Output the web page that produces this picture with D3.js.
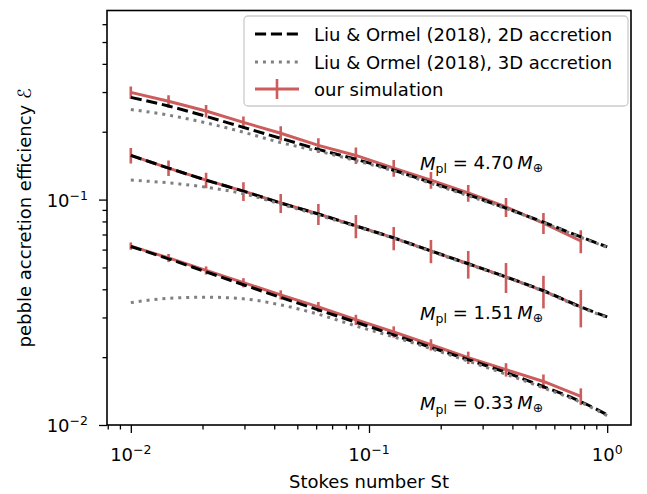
<!DOCTYPE html>
<html>
<head>
<meta charset="utf-8">
<script src="https://cdn.jsdelivr.net/npm/d3@7"></script>
<style>
  body { margin: 0; background: #fff; }
  text { font-family: "DejaVu Sans", sans-serif; fill: #000; }
</style>
</head>
<body>
<div id="wrapper"></div>
<script>
// Stokes numbers of the simulation runs
const stX = [0.01, 0.0144, 0.0207, 0.0297, 0.0426, 0.0613, 0.0881, 0.127, 0.182, 0.261, 0.376, 0.540, 0.775]
// Stokes numbers of the analytic curves
const thX = [0.01, 0.0144, 0.0207, 0.0297, 0.0426, 0.0613, 0.0881, 0.127, 0.182, 0.261, 0.376, 0.540, 0.775, 1.0]

// simulation, with error bars
const sim470 = [0.299, 0.273, 0.247, 0.220, 0.197, 0.174, 0.157, 0.138, 0.122, 0.107, 0.0927, 0.0787, 0.0655]
const err470 = [0.0188, 0.0172, 0.0156, 0.0139, 0.0146, 0.0129, 0.0133, 0.0117, 0.0104, 0.0091, 0.0089, 0.0084, 0.0077]
const sim151 = [0.157, 0.138, 0.122, 0.109, 0.0966, 0.0863, 0.0764, 0.0676, 0.0592, 0.0519, 0.0454, 0.0394, 0.0334]
const err151 = [0.0125, 0.0109, 0.0097, 0.0105, 0.0093, 0.0092, 0.0090, 0.0080, 0.0070, 0.0073, 0.0069, 0.0065, 0.0063]
const sim033 = [0.0622, 0.0551, 0.0485, 0.0428, 0.0378, 0.0334, 0.0293, 0.0259, 0.0227, 0.0199, 0.0176, 0.0156, 0.0134]
const err033 = [0.00226, 0.00229, 0.00202, 0.00201, 0.00177, 0.00175, 0.00153, 0.00149, 0.00131, 0.00125, 0.0012, 0.00115, 0.00114]

// Liu & Ormel (2018)
const lo2d470 = [0.284, 0.260, 0.234, 0.209, 0.187, 0.167, 0.151, 0.135, 0.119, 0.105, 0.0916, 0.0794, 0.0683, 0.0617]
const lo3d470 = [0.251, 0.237, 0.219, 0.199, 0.179, 0.164, 0.149, 0.134, 0.118, 0.104, 0.0912, 0.0790, 0.0680, 0.0614]
const lo2d151 = [0.157, 0.138, 0.122, 0.109, 0.0966, 0.0863, 0.0764, 0.0676, 0.0592, 0.0519, 0.0454, 0.0394, 0.0334, 0.0302]
const lo3d151 = [0.122, 0.1186, 0.1135, 0.1062, 0.0955, 0.0853, 0.0760, 0.0673, 0.0589, 0.0516, 0.0452, 0.0392, 0.0332, 0.0300]
const lo2d033 = [0.0619, 0.0546, 0.0478, 0.0419, 0.0368, 0.0324, 0.0286, 0.0251, 0.0221, 0.0195, 0.0171, 0.0148, 0.0127, 0.0111]
const lo3d033 = [0.0349, 0.0365, 0.0369, 0.0363, 0.0341, 0.0310, 0.0275, 0.0246, 0.0218, 0.0192, 0.0168, 0.0146, 0.0126, 0.0110]

const massLabels = ["4.70", "1.51", "0.33"]
const legendLabels = ["Liu & Ormel (2018), 2D accretion", "Liu & Ormel (2018), 3D accretion", "our simulation"]
const xMajor = [0.01, 0.1, 1]
const xMinor = [0.008, 0.009, 0.02, 0.03, 0.04, 0.05, 0.06, 0.07, 0.08, 0.09, 0.2, 0.3, 0.4, 0.5, 0.6, 0.7, 0.8, 0.9]
const yMajor = [0.01, 0.1]
const yMinor = [0.02, 0.03, 0.04, 0.05, 0.06, 0.07, 0.08, 0.09, 0.2, 0.3, 0.4, 0.5, 0.6]

// dimensions
let dim = {
  width: 647,
  height: 494,
  margin: { top: 10.5, right: 16, bottom: 69, left: 107 },
}
dim.bound_width = dim.width - dim.margin.left - dim.margin.right
dim.bound_height = dim.height - dim.margin.top - dim.margin.bottom

const red = "#cd5c5c"
const gray = "#808080"
const fs = "18px"
const fsSmall = "12.5px"

const svg = d3.select("#wrapper").append("svg")
  .attr("width", dim.width)
  .attr("height", dim.height)

const chart = svg.append("g")
  .attr("transform", `translate(${dim.margin.left},${dim.margin.top})`)

// scales
const x_scale = d3.scaleLog()
  .domain([Math.pow(10, -2.1), Math.pow(10, 0.1)])
  .range([0, dim.bound_width])
const y_scale = d3.scaleLog()
  .domain([0.01, 0.69])
  .range([dim.bound_height, 0])

chart.append("clipPath").attr("id", "clip")
  .append("rect").attr("width", dim.bound_width).attr("height", dim.bound_height)
const plot = chart.append("g").attr("clip-path", "url(#clip)")

const line = d3.line()
  .x(d => x_scale(d[0]))
  .y(d => y_scale(d[1]))
  .curve(d3.curveMonotoneX)

// simulation lines + error bars
const sims = [[sim470, err470], [sim151, err151], [sim033, err033]]
sims.forEach(([vals, errs]) => {
  const pts = stX.map((s, i) => [s, vals[i]])
  plot.append("path")
    .attr("d", d3.line().x(d => x_scale(d[0])).y(d => y_scale(d[1]))(pts))
    .attr("fill", "none")
    .attr("stroke", red)
    .attr("stroke-width", 3)
  plot.selectAll(null).data(stX).join("line")
    .attr("x1", d => x_scale(d))
    .attr("x2", d => x_scale(d))
    .attr("y1", (d, i) => y_scale(vals[i] - errs[i]))
    .attr("y2", (d, i) => y_scale(vals[i] + errs[i]))
    .attr("stroke", red)
    .attr("stroke-width", 2.6)
})

// 2D curves
;[lo2d470, lo2d151, lo2d033].forEach(vals => {
  plot.append("path")
    .attr("d", line(thX.map((s, i) => [s, vals[i]])))
    .attr("fill", "none")
    .attr("stroke", "#000")
    .attr("stroke-width", 3)
    .attr("stroke-dasharray", "11.1,4.8")
})
// 3D curves
;[lo3d470, lo3d151, lo3d033].forEach(vals => {
  plot.append("path")
    .attr("d", line(thX.map((s, i) => [s, vals[i]])))
    .attr("fill", "none")
    .attr("stroke", gray)
    .attr("stroke-width", 3)
    .attr("stroke-dasharray", "3,4.95")
})

// axes
const xAxis = chart.append("g").attr("transform", `translate(0,${dim.bound_height})`)
xAxis.call(d3.axisBottom(x_scale).tickValues(xMajor).tickSize(8).tickFormat(""))
const xAxisMinor = chart.append("g").attr("transform", `translate(0,${dim.bound_height})`)
xAxisMinor.call(d3.axisBottom(x_scale).tickValues(xMinor).tickSize(4.5).tickFormat(""))
const yAxis = chart.append("g")
yAxis.call(d3.axisLeft(y_scale).tickValues(yMajor).tickSize(8).tickFormat(""))
const yAxisMinor = chart.append("g")
yAxisMinor.call(d3.axisLeft(y_scale).tickValues(yMinor).tickSize(4.5).tickFormat(""))
chart.selectAll(".domain").remove()
chart.selectAll(".tick line").attr("stroke-width", 1.3)

chart.append("rect")
  .attr("width", dim.bound_width)
  .attr("height", dim.bound_height)
  .attr("fill", "none")
  .attr("stroke", "#000")
  .attr("stroke-width", 1.6)

// power-of-ten tick labels
const powLabel = (g, v) => {
  const e = Math.round(Math.log10(v))
  g.append("tspan").text("10")
  g.append("tspan").attr("font-size", fsSmall).attr("dy", "-0.55em").text(e < 0 ? "\u2212" + (-e) : String(e))
}
xMajor.forEach(v => {
  const t = chart.append("text")
    .attr("x", x_scale(v))
    .attr("y", dim.bound_height + 36)
    .attr("text-anchor", "middle")
    .attr("font-size", fs)
  powLabel(t, v)
})
yMajor.forEach(v => {
  const t = chart.append("text")
    .attr("x", -19)
    .attr("y", y_scale(v) + 7)
    .attr("text-anchor", "end")
    .attr("font-size", fs)
  powLabel(t, v)
})

// axis titles
svg.append("text")
  .attr("x", dim.margin.left + dim.bound_width / 2)
  .attr("y", 488)
  .attr("text-anchor", "middle")
  .attr("font-size", fs)
  .text("Stokes number St")
const yt = svg.append("text")
  .attr("transform", `translate(31,${dim.margin.top + dim.bound_height / 2}) rotate(-90)`)
  .attr("text-anchor", "middle")
  .attr("font-size", fs)
yt.append("tspan").text("pebble accretion efficiency ")
yt.append("tspan").attr("font-style", "italic").text("\u2130")

// mass labels
const labelY = [0.135, 0.0292, 0.0116]
massLabels.forEach((m, i) => {
  const t = chart.append("text")
    .attr("x", 420 - dim.margin.left)
    .attr("y", y_scale(labelY[i]))
    .attr("font-size", fs)
  t.append("tspan").attr("font-style", "italic").text("M")
  t.append("tspan").attr("font-size", fsSmall).attr("dy", "0.25em").text("pl")
  t.append("tspan").attr("dy", "-0.25em").text(" = " + m + "\u2009")
  t.append("tspan").attr("font-style", "italic").text("M")
  t.append("tspan").attr("font-size", fsSmall).attr("dy", "0.25em").text("\u2295")
})

// legend
const legend = svg.append("g").attr("transform", "translate(244,16)")
legend.append("rect")
  .attr("width", 384)
  .attr("height", 90)
  .attr("rx", 4)
  .attr("fill", "#fff")
  .attr("fill-opacity", 0.8)
  .attr("stroke", "#cccccc")
  .attr("stroke-width", 1.3)
const rowY = [18, 46, 73]
legendLabels.forEach((lab, i) => {
  const g = legend.append("g").attr("transform", `translate(0,${rowY[i]})`)
  if (i === 0) {
    g.append("line").attr("x1", 11).attr("x2", 55).attr("stroke", "#000")
      .attr("stroke-width", 3).attr("stroke-dasharray", "11.1,4.8")
  } else if (i === 1) {
    g.append("line").attr("x1", 11).attr("x2", 55).attr("stroke", gray)
      .attr("stroke-width", 3).attr("stroke-dasharray", "3,4.95")
  } else {
    g.append("line").attr("x1", 11).attr("x2", 55).attr("stroke", red).attr("stroke-width", 3)
    g.append("line").attr("x1", 33).attr("x2", 33).attr("y1", -10).attr("y2", 10)
      .attr("stroke", red).attr("stroke-width", 2.6)
  }
  g.append("text").attr("x", 70).attr("y", 6.5).attr("font-size", fs).text(lab)
})
</script>
</body>
</html>
